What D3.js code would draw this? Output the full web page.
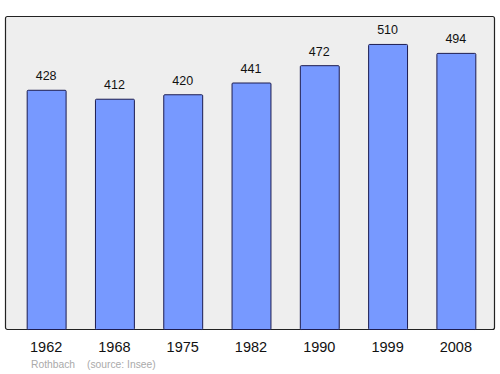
<!DOCTYPE html>
<meta charset="utf-8">
<html>
<head>
<script src="https://d3js.org/d3.v7.min.js"></script>
<style>
    body { margin: 0; background: #fff; font-family: "Liberation Sans", Arial, sans-serif; }
</style>
</head>
<body>
<svg id="chart"></svg>
<script>

var years = ["1962", "1968", "1975", "1982", "1990", "1999", "2008"]
var population = [428, 412, 420, 441, 472, 510, 494]
var place = "Rothbach"
var source = "(source: Insee)"

var width = 500
var height = 374
var svg = d3.select("#chart")
    .attr("width", width)
    .attr("height", height)

// plot frame
var frame = { left: 5.5, top: 16.5, right: 494.5, bottom: 329.5 }

svg.append("rect")
    .attr("x", frame.left)
    .attr("y", frame.top)
    .attr("width", frame.right - frame.left)
    .attr("height", frame.bottom - frame.top)
    .attr("rx", 2)
    .attr("fill", "#eeeeee")
    .attr("stroke", "#222")
    .attr("stroke-width", 1.2)

var x = d3.scaleBand()
    .domain(years)
    .range([12, 490])
    .paddingInner(0.43)
    .paddingOuter(0.215)

var y = d3.scaleLinear()
    .domain([0, 560])
    .range([frame.bottom, frame.top])

var bars = svg.append("g")
    .selectAll("g")
    .data(years)
    .enter()
    .append("g")

bars.append("rect")
    .attr("x", d => x(d) + 0.5)
    .attr("y", (d, i) => y(population[i]))
    .attr("width", x.bandwidth())
    .attr("height", (d, i) => y(0) - y(population[i]))
    .attr("rx", 1)
    .attr("fill", "#7799ff")
    .attr("stroke", "#1c1c50")
    .attr("stroke-width", 1)

// value labels
bars.append("text")
    .text((d, i) => population[i])
    .attr("x", d => x(d) + x.bandwidth() / 2)
    .attr("y", (d, i) => y(population[i]) - 10)
    .attr("text-anchor", "middle")
    .attr("font-size", "12.5px")
    .attr("fill", "#111")

// year labels
svg.append("g")
    .selectAll("text")
    .data(years)
    .enter()
    .append("text")
    .text(d => d)
    .attr("x", d => x(d) + x.bandwidth() / 2)
    .attr("y", 352)
    .attr("text-anchor", "middle")
    .attr("font-size", "14.5px")
    .attr("fill", "#111")

// footnote
svg.append("text")
    .attr("x", 31)
    .attr("y", 368)
    .attr("font-size", "10.3px")
    .attr("fill", "#aaa")
    .text(place)

svg.append("text")
    .attr("x", 87)
    .attr("y", 368)
    .attr("font-size", "10.3px")
    .attr("fill", "#aaa")
    .text(source)
</script>
</body>
</html>
